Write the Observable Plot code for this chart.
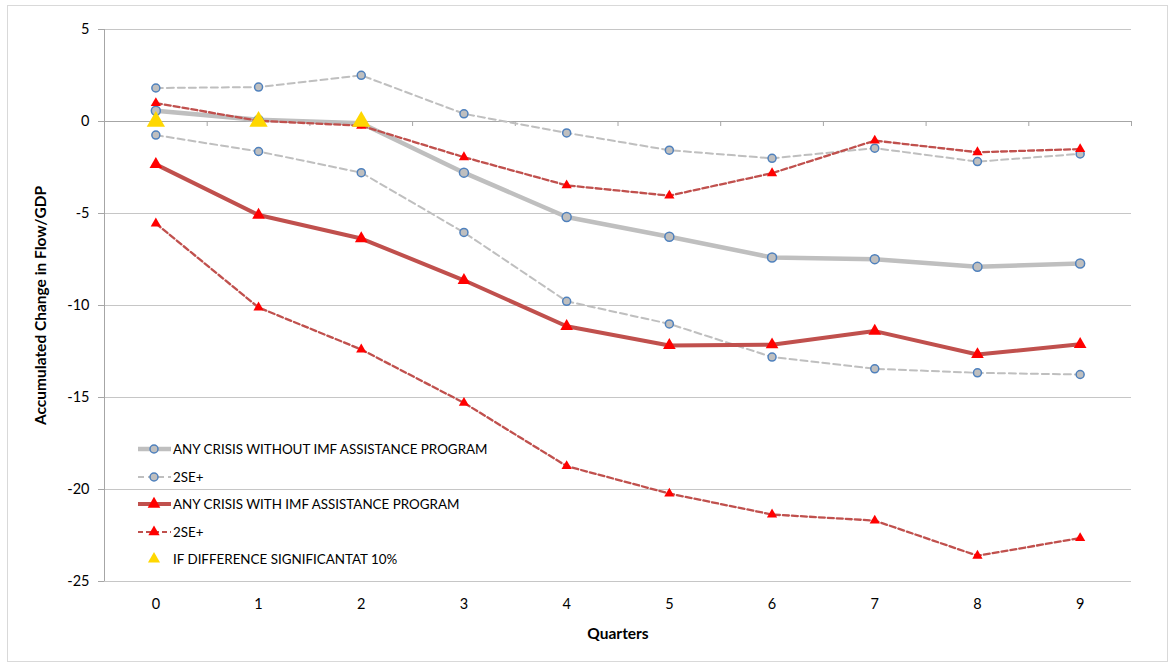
<!DOCTYPE html>
<html><head><meta charset="utf-8">
<script src="https://cdn.jsdelivr.net/npm/d3@7"></script>
<script src="https://cdn.jsdelivr.net/npm/@observablehq/plot@0.6"></script>
<style>
html,body{margin:0;padding:0;background:#fff;}
#wrap{position:relative;width:1170px;height:667px;font-family:Lato,"Open Sans",sans-serif;}
#border{position:absolute;left:7px;top:5px;width:1161px;height:657px;border:1px solid #d9d9d9;box-sizing:border-box;pointer-events:none;}
#legend{position:absolute;left:0;top:0;pointer-events:none;}
#wrap svg [aria-label="y-axis label"] text, #wrap svg [aria-label="x-axis label"] text{font-weight:bold;font-size:15.5px;fill:#000;}
</style></head><body>
<div id="wrap"><div id="border"></div></div>
<script>
// ---- data ----
const quarters = [0,1,2,3,4,5,6,7,8,9];
const noImf      = [0.58, 0.09, -0.09, -2.78, -5.19, -6.26, -7.39, -7.48, -7.90, -7.72];
const noImfUpper = [1.82, 1.87, 2.51, 0.42, -0.62, -1.56, -2.00, -1.45, -2.18, -1.76];
const noImfLower = [-0.74, -1.63, -2.78, -6.03, -9.77, -11.00, -12.80, -13.44, -13.66, -13.75];
const imf        = [-2.33, -5.08, -6.36, -8.63, -11.13, -12.17, -12.13, -11.39, -12.66, -12.11];
const imfUpper   = [1.00, 0.04, -0.23, -1.94, -3.47, -4.03, -2.81, -1.04, -1.67, -1.50];
const imfLower   = [-5.54, -10.11, -12.39, -15.29, -18.73, -20.22, -21.36, -21.69, -23.60, -22.64];
const significantQuarters = [0, 1, 2];
const significantValues   = [0, 0, 0];
const yTicks = [-25, -20, -15, -10, -5, 0, 5];
const legendLabels = ["ANY CRISIS WITHOUT IMF ASSISTANCE PROGRAM", "2SE+", "ANY CRISIS WITH IMF ASSISTANCE PROGRAM", "2SE+", "IF DIFFERENCE SIGNIFICANTAT 10%"];
const yLabel = "Accumulated Change in Flow/GDP";
const xLabel = "Quarters";

// ---- build ----
const rows = vals => quarters.map((q, i) => ({q, v: vals[i]}));
const sig = significantQuarters.map((q, i) => ({q, v: significantValues[i]}));
const boundaries = [...quarters.map(q => q - 0.5), quarters[quarters.length - 1] + 0.5];

const gray = "#bfbfbf", red = "#c0504d", blue = "#4f81bd", triRed = "#ff0000", yellow = "#ffd700";
const axisCol = "#a6a6a6";

const grayDot = {x: "q", y: "v", r: 4, fill: gray, stroke: blue, strokeWidth: 1.5};
const chart = Plot.plot({
  width: 1170, height: 667,
  marginLeft: 104, marginRight: 39, marginTop: 29, marginBottom: 86,
  style: {fontFamily: 'Lato, "Open Sans", sans-serif', fontSize: "14.5px", color: "#000", background: "transparent"},
  x: {domain: [boundaries[0], boundaries[boundaries.length - 1]]},
  y: {domain: [yTicks[0], yTicks[yTicks.length - 1]]},
  marks: [
    Plot.gridY(yTicks, {stroke: "#c6c6c6", strokeOpacity: 1}),
    Plot.ruleX([boundaries[0]], {y1: yTicks[0], y2: yTicks[yTicks.length - 1], stroke: axisCol}),
    Plot.ruleY([0], {stroke: axisCol}),
    Plot.ruleX(boundaries, {x: d => d, y1: 0, y2: -5 / 18.4, stroke: axisCol}),
    Plot.axisY(yTicks, {tickSize: 6, tickPadding: 9, stroke: axisCol, tickFormat: d => String(d),
      label: yLabel, labelAnchor: "center", labelOffset: 70, labelArrow: "none"}),
    Plot.axisX(quarters, {tickSize: 0, tickPadding: 17, tickFormat: d => String(d),
      label: xLabel, labelAnchor: "center", labelOffset: 57, labelArrow: "none"}),

    Plot.line(rows(noImfUpper), {x: "q", y: "v", stroke: gray, strokeWidth: 2, strokeDasharray: "7,4"}),
    Plot.dot(rows(noImfUpper), grayDot),
    Plot.line(rows(noImfLower), {x: "q", y: "v", stroke: gray, strokeWidth: 2, strokeDasharray: "7,4"}),
    Plot.dot(rows(noImfLower), grayDot),
    Plot.line(rows(noImf), {x: "q", y: "v", stroke: gray, strokeWidth: 4.5}),
    Plot.dot(rows(noImf), {...grayDot, r: 4.5}),

    Plot.line(rows(imfUpper), {x: "q", y: "v", stroke: red, strokeWidth: 2.3, strokeDasharray: "6,3"}),
    Plot.dot(rows(imfUpper), {x: "q", y: "v", symbol: "triangle", r: 3.8, fill: triRed}),
    Plot.line(rows(imfLower), {x: "q", y: "v", stroke: red, strokeWidth: 2.3, strokeDasharray: "6,3"}),
    Plot.dot(rows(imfLower), {x: "q", y: "v", symbol: "triangle", r: 3.8, fill: triRed}),
    Plot.line(rows(imf), {x: "q", y: "v", stroke: red, strokeWidth: 4}),
    Plot.dot(rows(imf), {x: "q", y: "v", symbol: "triangle", r: 4.7, fill: triRed}),

    Plot.dot(sig, {x: "q", y: "v", symbol: "triangle", r: 6.8, fill: yellow})
  ]
});
const wrap = document.getElementById("wrap");
wrap.insertBefore(chart, wrap.firstChild);

// ---- legend ----
const lg = d3.select(wrap).append("svg").attr("id", "legend").attr("width", 1170).attr("height", 667);
const lx0 = 138, lx1 = 171, lcx = 154, ltx = 173;
const rowY = [449, 477, 504, 532, 559];
const styles = [
  {stroke: gray, w: 4.5, dash: null, marker: "circle"},
  {stroke: gray, w: 2, dash: "6,4", marker: "circle"},
  {stroke: red, w: 4, dash: null, marker: "tri", r: 4.7},
  {stroke: red, w: 2.2, dash: "5,3", marker: "tri", r: 4.2},
  {stroke: null, marker: "yellow"}
];
legendLabels.forEach((label, i) => {
  const s = styles[i], y = rowY[i];
  if (s.stroke) lg.append("line").attr("x1", lx0).attr("x2", lx1).attr("y1", y).attr("y2", y)
    .attr("stroke", s.stroke).attr("stroke-width", s.w).attr("stroke-dasharray", s.dash);
  if (s.marker === "circle") lg.append("circle").attr("cx", lcx).attr("cy", y).attr("r", 4)
    .attr("fill", gray).attr("stroke", blue).attr("stroke-width", 1.5);
  else if (s.marker === "tri") lg.append("path").attr("d", d3.symbol(d3.symbolTriangle, Math.PI * s.r * s.r)())
    .attr("transform", `translate(${lcx},${y})`).attr("fill", triRed);
  else lg.append("path").attr("d", d3.symbol(d3.symbolTriangle, Math.PI * 4.5 * 4.5)())
    .attr("transform", `translate(${lcx},${y})`).attr("fill", yellow);
  lg.append("text").attr("x", ltx).attr("y", y).attr("dy", "0.35em")
    .attr("font-family", 'Lato, "Open Sans", sans-serif').attr("font-size", 13.4).attr("fill", "#000")
    .text(label);
});
</script>
</body></html>
